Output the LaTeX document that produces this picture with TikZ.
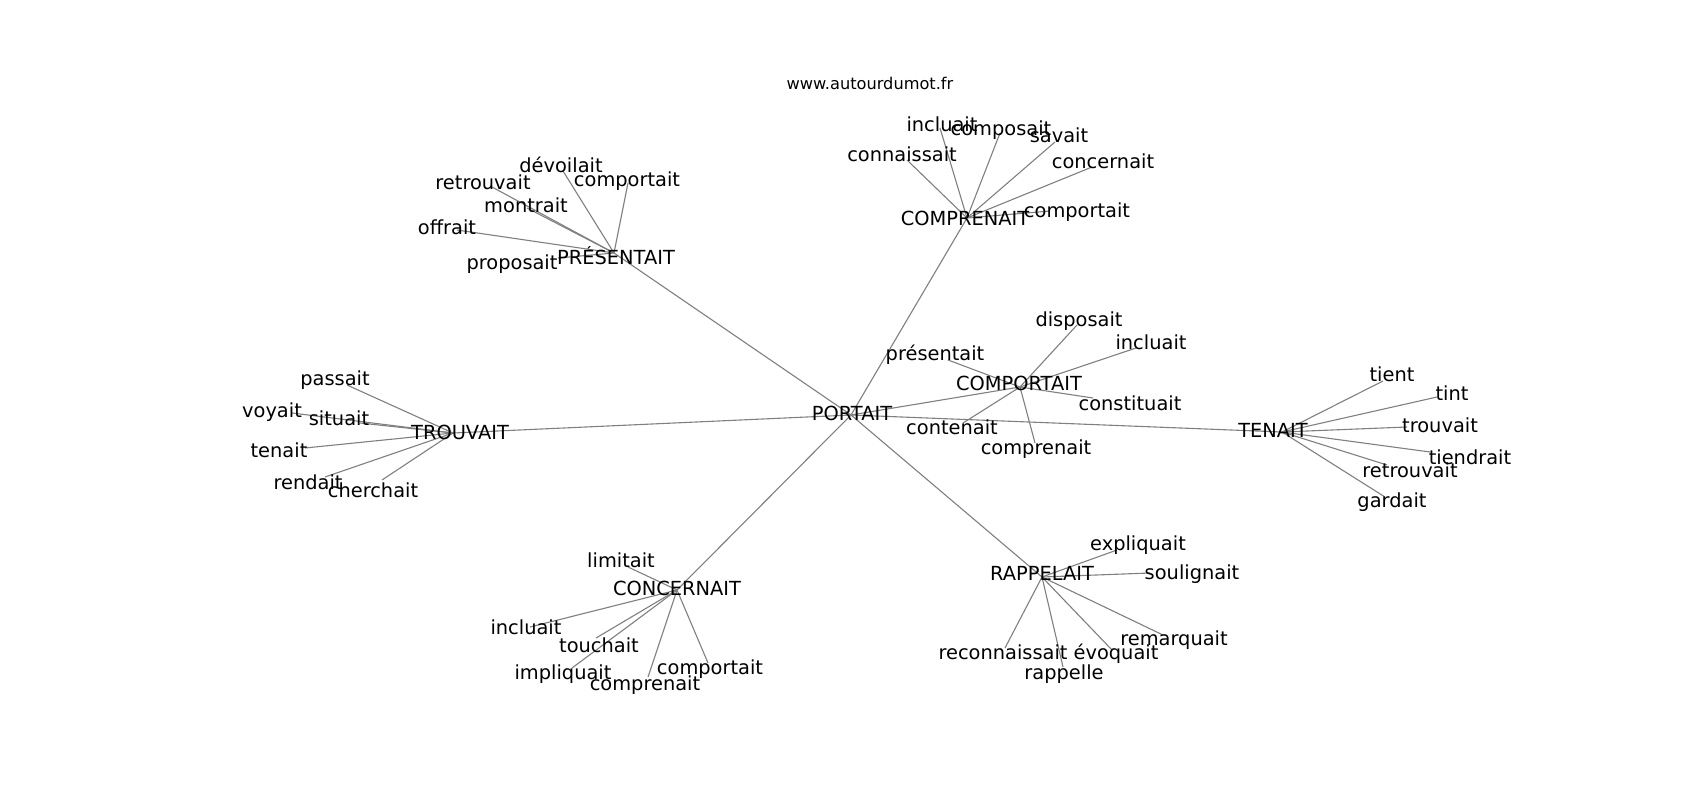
\documentclass[tikz,border=0pt]{standalone}
\usepackage{fontspec}
\setmainfont{DejaVu Sans}
\pgfdeclarelayer{bg}
\pgfdeclarelayer{edges}
\pgfsetlayers{bg,edges,main}
\tikzset{
  lbl/.style={inner sep=0pt, text height=0.76em, text depth=0.24em, yshift=-4.5pt, font=\fontsize{19.4}{23}\selectfont, text=black},
  ttl/.style={inner sep=0pt, text height=0.76em, text depth=0.24em, yshift=-4.5pt, font=\fontsize{16.2}{20}\selectfont, text=black},
  edge/.style={draw=gray, line width=1.1pt}
}
\newcommand\myleaf[5]{%
  \coordinate (e#1) at (#3);
  \node[lbl] (t#1) at (#4) {#5};
  \begin{pgfonlayer}{edges}\draw[edge] (#2) -- (e#1);\end{pgfonlayer}
}
\begin{document}
\begin{tikzpicture}[x=1pt,y=-1pt]
\begin{pgfonlayer}{bg}
\fill[white] (0,0) rectangle (1700,800);
\end{pgfonlayer}
\useasboundingbox (0,0) rectangle (1700,800);
\node[ttl] (title) at (870,82) {www.autourdumot.fr};
% hubs
\coordinate (hPo) at (851,415);
\coordinate (hC) at (967,218);
\coordinate (hP) at (614,253);
\coordinate (hT) at (453,433);
\coordinate (hM) at (1020,387);
\coordinate (hN) at (1282,432);
\coordinate (hK) at (677,590);
\coordinate (hR) at (1042,577);
\node[lbl] (lPo) at (852,413) {PORTAIT};
\node[lbl] (lC) at (965,218) {COMPRENAIT};
\node[lbl] (lP) at (616,257) {PRÉSENTAIT};
\node[lbl] (lT) at (460,432) {TROUVAIT};
\node[lbl] (lM) at (1019,383) {COMPORTAIT};
\node[lbl] (lN) at (1273,430) {TENAIT};
\node[lbl] (lK) at (677,588) {CONCERNAIT};
\node[lbl] (lR) at (1042,573) {RAPPELAIT};
\begin{pgfonlayer}{edges}
\foreach \h in {hC,hP,hT,hM,hN,hK,hR} \draw[edge] (hPo) -- (\h);
\end{pgfonlayer}
% PRESENTAIT
\myleaf{p1}{hP}{563,171}{561,165}{dévoilait}
\myleaf{p2}{hP}{628,183}{627,179}{comportait}
\myleaf{p3}{hP}{492,187}{483,182}{retrouvait}
\myleaf{p4}{hP}{527,208}{526,205}{montrait}
\myleaf{p5}{hP}{457,230}{447,227}{offrait}
\myleaf{p6}{hP}{558,258}{512,262}{proposait}
% COMPRENAIT
\myleaf{c1}{hC}{940,128}{942,124}{incluait}
\myleaf{c2}{hC}{1000,133}{1001,128}{composait}
\myleaf{c3}{hC}{1055,142}{1059,135}{savait}
\myleaf{c4}{hC}{907,160}{902,154}{connaissait}
\myleaf{c5}{hC}{1092,167}{1103,161}{concernait}
\myleaf{c6}{hC}{1050,211}{1077,210}{comportait}
% TROUVAIT
\myleaf{t1}{hT}{347,385}{335,378}{passait}
\myleaf{t2}{hT}{292,413}{272,410}{voyait}
\myleaf{t3}{hT}{360,423}{339,418}{situait}
\myleaf{t4}{hT}{305,448}{279,450}{tenait}
\myleaf{t5}{hT}{325,477}{308,482}{rendait}
\myleaf{t6}{hT}{382,480}{373,490}{cherchait}
% COMPORTAIT
\myleaf{m1}{hM}{948,360}{935,353}{présentait}
\myleaf{m2}{hM}{1077,325}{1079,319}{disposait}
\myleaf{m3}{hM}{1136,348}{1151,342}{incluait}
\myleaf{m4}{hM}{1093,398}{1130,403}{constituait}
\myleaf{m5}{hM}{963,423}{952,427}{contenait}
\myleaf{m6}{hM}{1035,443}{1036,447}{comprenait}
% TENAIT
\myleaf{n1}{hN}{1383,381}{1392,374}{tient}
\myleaf{n2}{hN}{1437,397}{1452,393}{tint}
\myleaf{n3}{hN}{1407,427}{1440,425}{trouvait}
\myleaf{n4}{hN}{1430,452}{1470,457}{tiendrait}
\myleaf{n5}{hN}{1387,465}{1410,470}{retrouvait}
\myleaf{n6}{hN}{1385,497}{1392,500}{gardait}
% RAPPELAIT
\myleaf{r1}{hR}{1117,550}{1138,543}{expliquait}
\myleaf{r2}{hR}{1150,573}{1192,572}{soulignait}
\myleaf{r3}{hR}{1163,635}{1174,638}{remarquait}
\myleaf{r4}{hR}{1005,648}{1003,652}{reconnaissait}
\myleaf{r5}{hR}{1112,650}{1116,652}{évoquait}
\myleaf{r6}{hR}{1063,667}{1064,672}{rappelle}
% CONCERNAIT
\myleaf{k1}{hK}{628,567}{621,560}{limitait}
\myleaf{k2}{hK}{530,627}{526,627}{incluait}
\myleaf{k3}{hK}{596,638}{599,645}{touchait}
\myleaf{k4}{hK}{572,668}{563,672}{impliquait}
\myleaf{k5}{hK}{648,677}{645,683}{comprenait}
\myleaf{k6}{hK}{708,663}{710,667}{comportait}
\end{tikzpicture}
\end{document}
